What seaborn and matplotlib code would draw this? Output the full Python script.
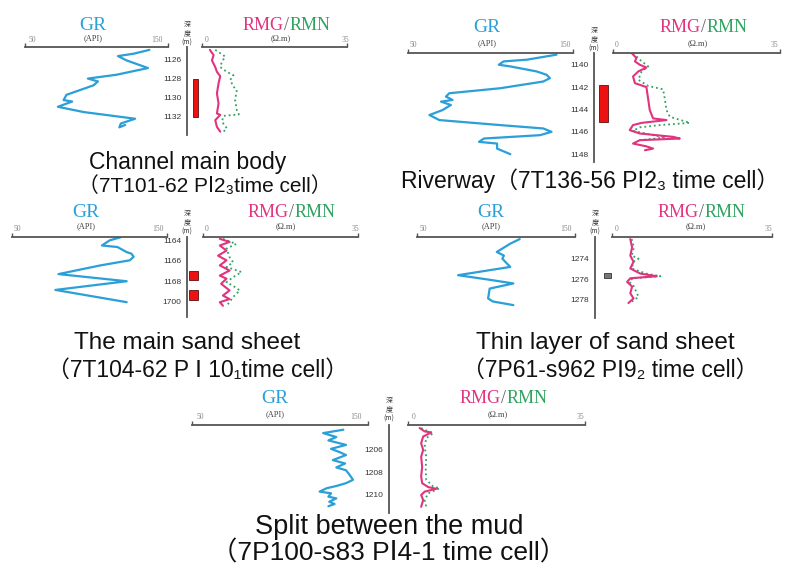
import matplotlib
matplotlib.use("Agg")
import matplotlib.pyplot as plt
import seaborn as sns

sns.set_style("white")
plt.rcParams["font.family"] = ["Liberation Sans", "DejaVu Sans", "Noto Sans CJK SC"]

W, H = 801, 567

# ---- 7T101-62, channel main body
p1_gr = [137, 126, 115, 121, 136, 114, 94, 101, 98, 79, 77, 83, 73, 91, 127, 117, 116, 120]
p1_gr_depth = [1125.0, 1125.4, 1125.65, 1126.1, 1126.9, 1127.6, 1128.0, 1128.3, 1128.7, 1129.7,
               1130.25, 1130.4, 1130.95, 1131.5, 1132.2, 1132.7, 1133.1, 1132.85]
p1_rmg = [1.9, 2.8, 2.4, 3.2, 3.6, 4.4, 4.0, 3.6, 4.0, 3.6, 4.4, 3.2, 3.6, 4.4]
p1_rmg_depth = [1125.0, 1125.55, 1126.1, 1126.8, 1127.3, 1127.75, 1128.5, 1129.55, 1130.6, 1131.65,
                1131.8, 1132.35, 1133.05, 1133.55]
p1_rmn = [3.2, 4.4, 5.6, 4.8, 4.4, 6.0, 7.6, 6.8, 7.6, 8.4, 8.0, 8.4, 8.9, 5.2, 4.8, 6.0, 5.2]
p1_rmn_depth = [1125.0, 1125.35, 1125.7, 1126.25, 1126.8, 1127.3, 1127.65, 1128.15, 1128.85, 1129.2,
                1130.25, 1131.3, 1131.75, 1131.9, 1132.5, 1133.2, 1133.55]
p1_sand = [(1128.0, 1132.0)]

# ---- 7T136-56, riverway
p2_gr = [140, 122, 108, 105, 112, 128, 134, 136, 132, 106, 75, 73, 77, 70, 76, 71, 63, 69,
         106, 132, 137, 130, 96, 93, 104, 104, 112]
p2_gr_depth = [1139.1, 1139.55, 1139.7, 1140.0, 1140.15, 1140.6, 1140.9, 1141.2, 1141.5, 1142.1,
               1142.55, 1142.85, 1143.15, 1143.3, 1143.6, 1144.05, 1144.5, 1144.95, 1145.4, 1145.7,
               1146.0, 1146.3, 1146.6, 1146.9, 1147.05, 1147.5, 1148.0]
p2_rmg = [3.9, 4.9, 4.6, 5.6, 7.0, 5.3, 4.2, 4.6, 7.0, 7.4, 7.7, 8.4, 11.2, 6.0, 4.2, 3.5, 5.6,
          12.6, 14.0, 5.6, 4.2, 7.0, 8.4, 6.7]
p2_rmg_depth = [1138.95, 1139.4, 1139.7, 1140.0, 1140.25, 1140.6, 1141.05, 1141.65, 1142.0, 1143.15,
                1144.05, 1144.8, 1144.95, 1145.2, 1145.4, 1145.85, 1146.15, 1146.45, 1146.6, 1146.75,
                1147.05, 1147.3, 1147.5, 1147.65]
p2_rmn = [4.2, 5.6, 7.4, 6.0, 5.3, 7.4, 10.5, 10.9, 11.2, 11.9, 16.1, 9.8, 5.6, 4.2, 8.4, 11.0, 5.6]
p2_rmn_depth = [1138.95, 1139.55, 1140.15, 1140.6, 1141.35, 1141.9, 1142.2, 1143.15, 1144.05, 1144.65,
                1145.2, 1145.4, 1145.6, 1145.9, 1146.3, 1146.5, 1146.75]
p2_sand = [(1141.8, 1145.1)]

# ---- 7T104-62, main sand sheet
p3_gr = [120, 113, 108, 118, 124, 127, 128.5, 126, 107, 80, 124, 78, 124]
p3_gr_depth = [1163.7, 1164.0, 1164.5, 1164.65, 1165.15, 1165.3, 1165.6, 1165.95, 1166.45, 1167.3,
               1168.0, 1168.85, 1170.05]
p3_rmg = [3.8, 6.0, 3.8, 5.3, 3.4, 5.3, 3.8, 6.0, 3.8, 5.3, 4.1, 6.0, 4.5, 6.0, 3.8, 4.5]
p3_rmg_depth = [1163.85, 1164.15, 1164.5, 1165.0, 1165.5, 1165.95, 1166.45, 1166.95, 1167.45, 1167.75,
                1168.25, 1168.9, 1169.4, 1169.75, 1170.05, 1170.4]
p3_rmn = [4.5, 7.5, 5.3, 6.0, 6.8, 5.3, 8.7, 6.8, 5.3, 6.8, 8.3, 6.8, 6.0, 5.3]
p3_rmn_depth = [1163.85, 1164.35, 1164.8, 1165.65, 1166.15, 1166.6, 1167.1, 1167.6, 1168.1, 1168.45,
                1168.9, 1169.55, 1170.05, 1170.4]
p3_sand = [(1166.95, 1167.85), (1168.85, 1169.85)]
p3_tick_labels = ["1164", "1166", "1168", "1700"]

# ---- 7P61-s962, thin layer of sand sheet
p4_gr = [115, 109, 100.5, 105, 104, 109, 76, 94, 111, 96, 95, 98, 111]
p4_gr_depth = [1272.1, 1272.55, 1273.35, 1273.7, 1274.0, 1274.8, 1275.6, 1276.0, 1276.4, 1276.9,
               1277.85, 1278.15, 1278.5]
p4_rmg = [4.0, 4.4, 4.0, 4.7, 4.0, 6.2, 9.8, 4.0, 3.3, 4.4, 4.0, 4.7, 3.6]
p4_rmg_depth = [1272.1, 1272.9, 1273.7, 1274.3, 1274.95, 1275.45, 1275.7, 1275.9, 1276.25, 1276.7,
                1277.35, 1277.85, 1278.3]
p4_rmn = [4.3, 4.8, 4.3, 5.8, 4.7, 4.3, 7.5, 10.6, 4.5, 3.8, 4.8, 5.8, 3.9]
p4_rmn_depth = [1272.1, 1272.9, 1273.7, 1274.0, 1274.3, 1274.95, 1275.45, 1275.7, 1275.9, 1276.25,
                1276.7, 1277.7, 1278.3]
p4_sand = [(1275.4, 1275.9)]

# ---- 7P100-s83, split between the mud
p5_gr = [136, 124.5, 132, 127.5, 137.5, 129, 134, 137.5, 130, 137, 132, 137.5, 139.5, 141.5, 137.5,
         132, 126.5, 122.5, 129, 127.5, 132, 128, 131, 127.5]
p5_gr_depth = [1204.2, 1204.5, 1204.85, 1205.15, 1205.55, 1205.9, 1206.2, 1206.45, 1206.9, 1207.2,
               1207.55, 1207.8, 1208.2, 1208.65, 1208.95, 1209.2, 1209.4, 1209.7, 1209.85, 1210.15,
               1210.3, 1210.6, 1210.8, 1211.0]
p5_rmg = [2.3, 3.3, 4.6, 3.0, 2.6, 3.0, 2.6, 2.8, 2.6, 2.8, 4.0, 5.6, 3.3, 2.6, 3.0, 2.6]
p5_rmg_depth = [1204.05, 1204.35, 1204.45, 1204.8, 1205.4, 1206.0, 1206.6, 1207.5, 1208.35, 1208.95,
                1209.3, 1209.45, 1209.7, 1210.0, 1210.45, 1211.05]
p5_rmn = [2.6, 4.0, 5.0, 3.6, 3.3, 3.6, 3.5, 3.6, 5.0, 6.3, 4.0, 3.3, 3.6]
p5_rmn_depth = [1204.05, 1204.35, 1204.5, 1204.95, 1205.7, 1206.6, 1207.8, 1208.65, 1209.25, 1209.4,
                1209.85, 1210.45, 1211.05]
p5_sand = []

GR_C = "#2a9fd8"
RMG_C = "#e2337f"
RMN_C = "#2fa35e"
AX_C = "#555555"

fig = plt.figure(figsize=(W / 100, H / 100), dpi=100)


def px_axes(x0, y0, x1, y1):
    ax = fig.add_axes([x0 / W, 1 - y1 / H, (x1 - x0) / W, (y1 - y0) / H])
    ax.patch.set_alpha(0)
    return ax


def finish_track(ax, lim, dtop, dbot):
    ax.set_xlim(*lim)
    ax.set_ylim(dbot, dtop)
    for s in ["left", "right", "bottom"]:
        ax.spines[s].set_visible(False)
    ax.spines["top"].set_color(AX_C)
    ax.spines["top"].set_linewidth(1.3)
    ax.xaxis.set_ticks_position("top")
    ax.set_xticks(list(lim))
    ax.tick_params(axis="x", direction="out", length=3, width=1, color=AX_C,
                   labeltop=False, labelbottom=False)
    ax.set_yticks([])
    ax.set_xlabel("")
    ax.set_ylabel("")


def depth_axis(x, ytop, ybot, dtop, dbot, ticks, labels, sand, bar_x, bar_w, bar_c):
    ax = px_axes(x, ytop, x + 25, ybot)
    ax.set_xlim(0, 25)
    edge = "#333333" if bar_c == "#777777" else "#5a1010"
    for top, bot in sand:
        ax.bar(bar_x, bot - top, bottom=top, width=bar_w, color=bar_c,
               edgecolor=edge, linewidth=0.6, align="edge")
    ax.set_ylim(dbot, dtop)
    for s in ["top", "right", "bottom"]:
        ax.spines[s].set_visible(False)
    ax.spines["left"].set_color(AX_C)
    ax.spines["left"].set_linewidth(1.3)
    ax.set_xticks([])
    ax.set_yticks(ticks, labels)
    ax.tick_params(axis="y", direction="out", length=3, width=1, color=AX_C,
                   labelsize=6, pad=1, labelcolor="#333333")


panels = [
    dict(gr=(p1_gr, p1_gr_depth), rmg=(p1_rmg, p1_rmg_depth), rmn=(p1_rmn, p1_rmn_depth),
         sand=p1_sand, ticks=[1126, 1128, 1130, 1132], labels=None,
         gr_x=(25, 168), res_x=(202, 347), top=47, bot=135, dtop=1124.7, dbot=1133.9,
         dx=187, bar=(6, 5), bar_c="#ee1111"),
    dict(gr=(p2_gr, p2_gr_depth), rmg=(p2_rmg, p2_rmg_depth), rmn=(p2_rmn, p2_rmn_depth),
         sand=p2_sand, ticks=[1140, 1142, 1144, 1146, 1148], labels=None,
         gr_x=(408, 573), res_x=(613, 780), top=53, bot=162, dtop=1138.95, dbot=1148.7,
         dx=594, bar=(5, 9), bar_c="#ee1111"),
    dict(gr=(p3_gr, p3_gr_depth), rmg=(p3_rmg, p3_rmg_depth), rmn=(p3_rmn, p3_rmn_depth),
         sand=p3_sand, ticks=[1164, 1166, 1168, 1170], labels=p3_tick_labels,
         gr_x=(12, 167), res_x=(203, 358), top=237, bot=317, dtop=1163.67, dbot=1171.5,
         dx=187, bar=(2, 9), bar_c="#ee1111"),
    dict(gr=(p4_gr, p4_gr_depth), rmg=(p4_rmg, p4_rmg_depth), rmn=(p4_rmn, p4_rmn_depth),
         sand=p4_sand, ticks=[1274, 1276, 1278], labels=None,
         gr_x=(417, 575), res_x=(612, 772), top=237, bot=318, dtop=1271.9, dbot=1279.75,
         dx=595, bar=(9, 7), bar_c="#777777"),
    dict(gr=(p5_gr, p5_gr_depth), rmg=(p5_rmg, p5_rmg_depth), rmn=(p5_rmn, p5_rmn_depth),
         sand=p5_sand, ticks=[1206, 1208, 1210], labels=None,
         gr_x=(192, 368), res_x=(408, 585), top=425, bot=513, dtop=1203.78, dbot=1211.6,
         dx=389, bar=(5, 5), bar_c="#ee1111"),
]

for p in panels:
    ax_gr = px_axes(p["gr_x"][0], p["top"], p["gr_x"][1], p["bot"])
    sns.lineplot(x=p["gr"][0], y=p["gr"][1], sort=False, estimator=None, ax=ax_gr,
                 color=GR_C, linewidth=1.6)
    finish_track(ax_gr, (50, 150), p["dtop"], p["dbot"])

    ax_r = px_axes(p["res_x"][0], p["top"], p["res_x"][1], p["bot"])
    sns.lineplot(x=p["rmn"][0], y=p["rmn"][1], sort=False, estimator=None, ax=ax_r,
                 color=RMN_C, linewidth=1.3, linestyle=":")
    sns.lineplot(x=p["rmg"][0], y=p["rmg"][1], sort=False, estimator=None, ax=ax_r,
                 color=RMG_C, linewidth=1.5)
    finish_track(ax_r, (0, 35), p["dtop"], p["dbot"])

    labels = p["labels"] or [str(t) for t in p["ticks"]]
    depth_axis(p["dx"], p["top"], p["bot"], p["dtop"], p["dbot"], p["ticks"], labels,
               p["sand"], p["bar"][0], p["bar"][1], p["bar_c"])

# ---- all the text, in pixel coordinates
ov = fig.add_axes([0, 0, 1, 1])
ov.set_xlim(0, W)
ov.set_ylim(H, 0)
ov.axis("off")

SERIF = ["Liberation Serif", "DejaVu Serif"]
CJK = ["Noto Sans CJK SC", "DejaVu Sans"]

# (GR centre x, GR baseline y, RMG left x, scale label y, depth x, 50 x, 150 x, 0 x, 35 x, API y, depth label y)
headers = [
    (93, 30, 243, 42, 187, 32, 157, 207, 345, 38, 34),
    (487, 32, 660, 47, 594, 413, 565, 617, 774, 43, 40),
    (86, 217, 248, 231, 187, 17, 158, 207, 355, 226, 223),
    (491, 217, 658, 231, 595, 423, 566, 617, 768, 226, 223),
    (275, 403, 460, 419, 389, 200, 356, 414, 580, 414, 410),
]
for gx, gy, rx, sy, dx, x50, x150, x0, x35, apiy, dly in headers:
    ov.text(gx, gy, "GR", color=GR_C, fontsize=14, family=SERIF, ha="center", va="baseline")
    ov.text(gx, apiy, "(API)", color="#444444", fontsize=6, family=SERIF, ha="center", va="center")
    t1 = ov.text(rx, gy, "RMG", color=RMG_C, fontsize=13, family=SERIF, ha="left", va="baseline")
    t2 = ov.annotate("/", xy=(1, 0), xycoords=t1, color="#666666", fontsize=13, family=SERIF,
                     ha="left", va="bottom")
    ov.annotate("RMN", xy=(1, 0), xycoords=t2, color=RMN_C, fontsize=13, family=SERIF,
                ha="left", va="bottom")
    ov.text(rx + 38, apiy, "(Ω.m)", color="#444444", fontsize=6, family=SERIF, ha="center", va="center")
    for xx, s in [(x50, "50"), (x150, "150"), (x0, "0"), (x35, "35")]:
        ov.text(xx, sy, s, color="#888888", fontsize=5.5, family=SERIF, ha="center", va="baseline")
    ov.text(dx, dly, "深\n度\n(m)", color="#333333", fontsize=5, family=CJK, ha="center",
            va="center", linespacing=1.15)

TF = ["Liberation Sans", "DejaVu Sans", "Noto Sans CJK SC"]
ov.text(188, 163, "Channel main body", fontsize=16.5, family=TF, ha="center", va="center", color="#111111")
ov.text(205, 186, "（7T101-62 PⅠ2₃time cell）", fontsize=15, family=TF, ha="center", va="center", color="#111111")
ov.text(401, 181, "Riverway（7T136-56 PⅠ2₃ time cell）", fontsize=16.5, family=TF, ha="left", va="center", color="#111111")
ov.text(187, 343, "The main sand sheet", fontsize=17.5, family=TF, ha="center", va="center", color="#111111")
ov.text(198, 370, "（7T104-62 P Ⅰ 10₁time cell）", fontsize=16.5, family=TF, ha="center", va="center", color="#111111")
ov.text(605, 343, "Thin layer of sand sheet", fontsize=17.5, family=TF, ha="center", va="center", color="#111111")
ov.text(610, 370, "（7P61-s962 PⅠ9₂ time cell）", fontsize=16.5, family=TF, ha="center", va="center", color="#111111")
ov.text(389, 527, "Split between the mud", fontsize=19.5, family=TF, ha="center", va="center", color="#111111")
ov.text(389, 553, "（7P100-s83 PⅠ4-1 time cell）", fontsize=19, family=TF, ha="center", va="center", color="#111111")

fig.savefig("out.png", dpi=100)
